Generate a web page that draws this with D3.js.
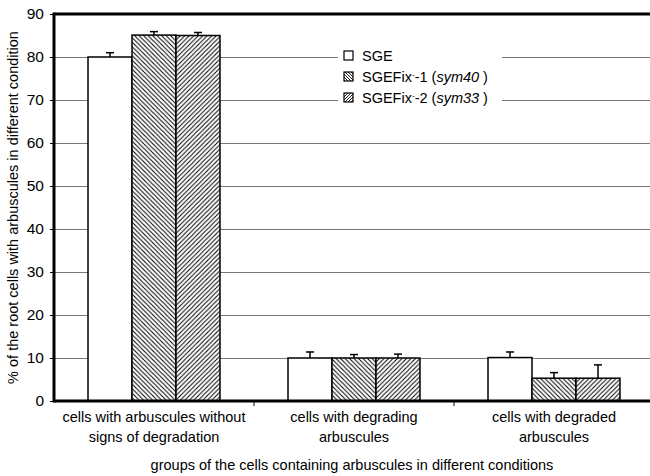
<!DOCTYPE html>
<html><head><meta charset="utf-8">
<script src="https://cdn.jsdelivr.net/npm/d3@7"></script>
<style>body{margin:0;background:#fff}svg{display:block;font-family:"Liberation Sans",Arial,sans-serif}</style>
</head><body><svg id="c" width="650" height="476"></svg>
<script>
const categories = [
  ["cells with arbuscules without", "signs of degradation"],
  ["cells with degrading", "arbuscules"],
  ["cells with degraded", "arbuscules"]
];
const seriesNames = ["SGE", "SGEFix-1 (sym40)", "SGEFix-2 (sym33)"];
const sgeValues = [80, 10, 10.1];
const sym40Values = [85.1, 10, 5.3];
const sym33Values = [85, 10, 5.3];
const sgeErrors = [1.0, 1.4, 1.3];
const sym40Errors = [0.8, 0.8, 1.3];
const sym33Errors = [0.7, 0.9, 3.1];
const yTicks = [0, 10, 20, 30, 40, 50, 60, 70, 80, 90];
const yTitle = "% of the root cells with arbuscules in different condition";
const xTitle = "groups of the cells containing arbuscules in different conditions";

const svg = d3.select("#c");
const L = 54, R = 654, T = 14, B = 401;
const FS = 14.5;
const y = d3.scaleLinear().domain([0, 90]).range([B, T]);
const x0 = d3.scaleBand().domain(d3.range(categories.length)).range([L, R]);
const x1 = d3.scaleBand().domain(d3.range(seriesNames.length)).range([0, x0.bandwidth()]).paddingOuter(0.773);

const defs = svg.append("defs");
function hatch(id, dir) {
  const s = 4.5;
  const p = defs.append("pattern").attr("id", id).attr("patternUnits", "userSpaceOnUse")
    .attr("width", s).attr("height", s);
  p.append("rect").attr("width", s).attr("height", s).attr("fill", "#fff");
  if (dir === "back") {
    p.append("path").attr("d", `M0,0 L${s},${s} M${-s/2},${s/2} L${s/2},${s*1.5} M${s/2},${-s/2} L${s*1.5},${s/2}`)
      .attr("stroke", "#000").attr("stroke-width", 1);
  } else {
    p.append("path").attr("d", `M0,${s} L${s},0 M${-s/2},${s/2} L${s/2},${-s/2} M${s/2},${s*1.5} L${s*1.5},${s/2}`)
      .attr("stroke", "#000").attr("stroke-width", 1);
  }
}
hatch("hb", "back");
hatch("hf", "fwd");
function smallHatch(id, dir) {
  const s = 3;
  const p = defs.append("pattern").attr("id", id).attr("patternUnits", "userSpaceOnUse").attr("width", s).attr("height", s);
  p.append("rect").attr("width", s).attr("height", s).attr("fill", "#fff");
  p.append("path").attr("d", dir === "back" ? `M0,0 L${s},${s}` : `M0,${s} L${s},0`).attr("stroke", "#000").attr("stroke-width", 0.9);
}
smallHatch("hbs", "back");
smallHatch("hfs", "fwd");
const fills = ["#fff", "url(#hb)", "url(#hf)"];
const legendFills = ["#fff", "url(#hbs)", "url(#hfs)"];

// gridlines
svg.append("g").selectAll("line").data(yTicks.filter(t => t > 0 && t < 90)).join("line")
  .attr("x1", L).attr("x2", 650).attr("y1", d => y(d)).attr("y2", d => y(d))
  .attr("stroke", "#777").attr("stroke-width", 1).attr("shape-rendering", "crispEdges");

// legend background
svg.append("rect").attr("x", 338).attr("y", 44).attr("width", 164).attr("height", 64).attr("fill", "#fff");

// bars
const seriesVals = [sgeValues, sym40Values, sym33Values];
const seriesErr = [sgeErrors, sym40Errors, sym33Errors];
const data = [];
categories.forEach((c, i) => seriesVals.forEach((vals, s) => data.push({ i, s, v: vals[i], e: seriesErr[s][i] })));

svg.append("g").selectAll("rect").data(data).join("rect")
  .attr("x", d => x0(d.i) + x1(d.s)).attr("width", x1.bandwidth())
  .attr("y", d => y(d.v)).attr("height", d => y(0) - y(d.v))
  .attr("fill", d => fills[d.s]).attr("stroke", "#000").attr("stroke-width", 1.5);

// error bars
const cx = d => x0(d.i) + x1(d.s) + x1.bandwidth() / 2;
const eb = svg.append("g").attr("stroke", "#000").attr("stroke-width", 1.5);
eb.selectAll("line.v").data(data).join("line").attr("class", "v")
  .attr("x1", cx).attr("x2", cx)
  .attr("y1", d => y(d.v)).attr("y2", d => y(d.v + d.e));
eb.selectAll("line.c").data(data).join("line").attr("class", "c")
  .attr("x1", d => cx(d) - 4).attr("x2", d => cx(d) + 4)
  .attr("y1", d => y(d.v + d.e)).attr("y2", d => y(d.v + d.e));

// axes
const yAxis = d3.axisLeft(y).tickValues(yTicks).tickSize(4).tickPadding(6);
const gy = svg.append("g").attr("transform", `translate(${L},0)`).call(yAxis);
gy.select(".domain").remove();
gy.selectAll("text").attr("font-size", 15.5).attr("fill", "#000").attr("font-family", "Liberation Sans, Arial, sans-serif");
gy.selectAll("line").attr("stroke", "#000");

svg.append("line").attr("x1", L).attr("x2", L).attr("y1", T - 1.5).attr("y2", B + 1.5).attr("stroke", "#000").attr("stroke-width", 3);
svg.append("line").attr("x1", L).attr("x2", 650).attr("y1", B).attr("y2", B).attr("stroke", "#000").attr("stroke-width", 3);
svg.append("line").attr("x1", L).attr("x2", 650).attr("y1", T).attr("y2", T).attr("stroke", "#000").attr("stroke-width", 3);

// x ticks at band boundaries
svg.append("g").selectAll("line").data(d3.range(1, categories.length)).join("line")
  .attr("x1", d => x0(d)).attr("x2", d => x0(d)).attr("y1", B).attr("y2", B + 5)
  .attr("stroke", "#000").attr("stroke-width", 1);

// x category labels
const xl = svg.append("g").selectAll("text").data(categories).join("text")
  .attr("text-anchor", "middle").attr("font-size", FS).attr("fill", "#000")
  .attr("x", (d, i) => x0(i) + x0.bandwidth() / 2);
xl.each(function (d) {
  const t = d3.select(this);
  d.forEach((line, k) => t.append("tspan").attr("x", t.attr("x")).attr("y", 422 + k * 20).text(line));
});

// titles
svg.append("text").attr("x", 352).attr("y", 470).attr("text-anchor", "middle").attr("font-size", FS).text(xTitle);
svg.append("text").attr("transform", `translate(18,${(T + B) / 2}) rotate(-90)`).attr("text-anchor", "middle")
  .attr("font-size", FS).text(yTitle);

// legend
const lg = svg.append("g");
const ly = [56, 77, 98];
seriesNames.forEach((n, s) => {
  lg.append("rect").attr("x", 344).attr("y", ly[s] - 5).attr("width", 9).attr("height", 9)
    .attr("fill", legendFills[s]).attr("stroke", "#000").attr("stroke-width", 1.2);
});
const lt = lg.selectAll("text.l").data(seriesNames).join("text").attr("class", "l")
  .attr("x", 362).attr("y", (d, s) => ly[s] + 5).attr("font-size", FS).attr("fill", "#000");
lt.each(function (d) {
  const t = d3.select(this);
  const m = d.match(/^(SGEFix)-(\d) \((\w+)\)$/);
  if (!m) { t.text(d); return; }
  t.append("tspan").text(m[1]);
  t.append("tspan").attr("font-size", 8).attr("dy", -5).text("-");
  t.append("tspan").attr("dy", 5).text("-" + m[2] + " (");
  t.append("tspan").attr("font-style", "italic").text(m[3]);
  t.append("tspan").text(" )");
});
</script></body></html>
